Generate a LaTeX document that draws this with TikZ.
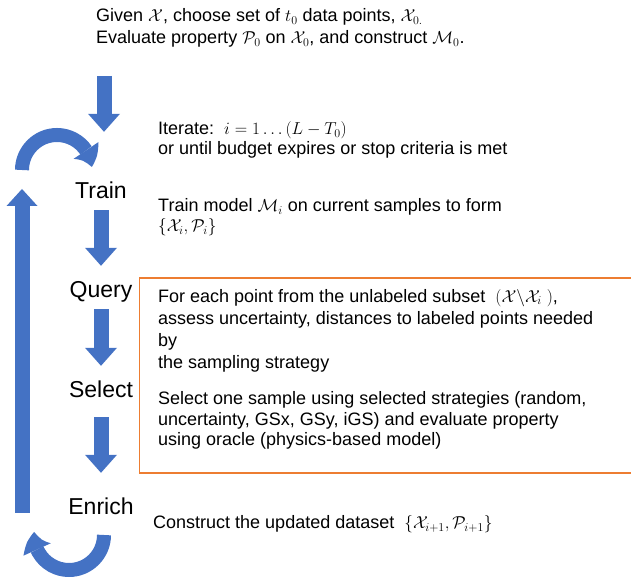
\documentclass[tikz,border=0pt]{standalone}
\usepackage{amsmath}
\usepackage{fontspec}
\setmainfont{Liberation Sans}
\usepackage{tikz}
\usetikzlibrary{arrows.meta, bending}
\definecolor{loopblue}{HTML}{4472C4}
\definecolor{boxorange}{HTML}{ED7D31}
\tikzstyle{stage} = [inner sep=0pt, anchor=base, font=\fontsize{23}{26}\selectfont, text height=17pt, text depth=5pt]
\tikzstyle{note} = [inner sep=0pt, anchor=base west, align=left, font=\fontsize{18}{22}\selectfont]
\tikzstyle{blockarrow} = [draw=loopblue, line width=15pt, -{Triangle[length=18pt, width=32pt, line width=0pt]}]
\tikzstyle{bendarrow} = [draw=loopblue, line width=14pt, -{Triangle[bend, length=18pt, width=30pt, line width=0pt]}]

\begin{document}
\begin{tikzpicture}[x=1pt, y=1pt]
		\useasboundingbox (0,0) rectangle (631,583);
		% initial set (base anchor sits on the last line)
		\node (given) [note, font=\fontsize{18}{22}\selectfont] at (96,539) {Given $\mathcal{X}$, choose set of $t_0$ data points, $\mathcal{X}_{0.}$\\Evaluate property $\mathcal{P}_0$ on $\mathcal{X}_0$, and construct $\mathcal{M}_0$.};
		% loop stages
		\node (train) [stage] at (101,384) {Train};
		\node (query) [stage] at (101,285) {Query};
		\node (select) [stage] at (101,185) {Select};
		\node (enrich) [stage] at (101,68) {Enrich};
		% descriptions
		\node (iterate) [note, font=\fontsize{18}{20}\selectfont] at (158,428) {Iterate:~~$i = 1 \ldots (L - T_0)$\\or until budget expires or stop criteria is met};
		\node (trainText) [note, font=\fontsize{18}{20}\selectfont] at (158,351) {Train model $\mathcal{M}_i$ on current samples to form\\$\{\mathcal{X}_i, \mathcal{P}_i\}$};
		\node (queryText) [note, font=\fontsize{18}{22.3}\selectfont] at (158,214) {For each point from the unlabeled subset~~$(\mathcal{X}\backslash\mathcal{X}_i\ )$,\\assess uncertainty, distances to labeled points needed\\by\\the sampling strategy};
		\node (selectText) [note, font=\fontsize{18}{20.5}\selectfont] at (158,137) {Select one sample using selected strategies (random,\\uncertainty, GSx, GSy, iGS) and evaluate property\\using oracle (physics-based model)};
		\node (enrichText) [note] at (153,54) {Construct the updated dataset~~$\{\mathcal{X}_{i+1}, \mathcal{P}_{i+1}\}$};
		\draw [boxorange, line width=1.5pt] (139.5,110) rectangle (640,305);
		
		\coordinate (init) at (104,507);
		\coordinate (loopBottom) at (22,70);
		\coordinate (loopTop) at (22,394);
		\draw [blockarrow, shorten >=50pt] (init) -- (init |- train.north);
		\draw [blockarrow, shorten <=6pt, shorten >=15pt] (train) -- (query);
		\draw [blockarrow, shorten <=6pt, shorten >=15pt] (query) -- (select);
		\draw [blockarrow, shorten <=14pt, shorten >=25pt] (select) -- (enrich);
		% back to the start of the loop
		\draw [bendarrow] (104,48) arc[start angle=0, end angle=-185, radius=35];
		\draw [blockarrow, -{Triangle[length=17pt, width=31pt, line width=0pt]}] (loopBottom) -- (loopTop);
		\draw [bendarrow] (22,413) arc[start angle=180, end angle=5, radius=35];
	\end{tikzpicture}
\end{document}
